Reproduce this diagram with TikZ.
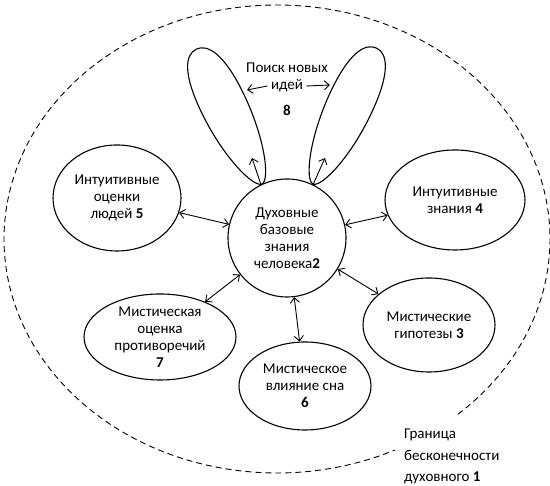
\documentclass[tikz,border=0pt]{standalone}
\usepackage{fontspec}
\setmainfont{Carlito}
\usetikzlibrary{arrows.meta,shapes.geometric}
\begin{document}
\begin{tikzpicture}[x=1pt,y=1pt,
  lbl/.style={font=\fontsize{15}{17}\selectfont, align=center},
  bub/.style={draw, ellipse, line width=1.1pt, inner sep=0pt, lbl},
  conn/.style={line width=0.9pt, {Straight Barb[length=5pt,width=9pt]}-{Straight Barb[length=5pt,width=9pt]}},
  one/.style={line width=0.9pt, -{Straight Barb[length=5pt,width=9pt]}},
  petal/.style={line width=1.1pt}
]
\useasboundingbox (0,0) rectangle (550,486);
% outer dashed boundary
\draw[line width=0.9pt, dash pattern=on 6pt off 4pt] (277,247) ++(-48.5:273 and 234)
  arc[start angle=-48.5,end angle=295.6,x radius=273,y radius=234];

% centre
\node[bub, circle, minimum size=118pt] (c2) at (287,248) {Духовные\\базовые\\знания\\человека\textbf{2}};

% bubbles
\node[bub, minimum width=128pt, minimum height=106pt] (e5) at (117,288) {Интуитивные\\оценки\\людей \textbf{5}};
\node[bub, minimum width=140pt, minimum height=100pt] (e4) at (455,286) {Интуитивные\\знания \textbf{4}};
\node[bub, minimum width=132pt, minimum height=94pt] (e3) at (429,161) {Мистические\\гипотезы \textbf{3}};
\node[bub, minimum width=132pt, minimum height=88pt] (e6) at (305,100) {Мистическое\\влияние сна\\\textbf{6}};
\node[bub, minimum width=152pt, minimum height=86pt] (e7) at (160,149) {Мистическая\\оценка\\противоречий\\\textbf{7}};

\draw[conn] (e5) -- (c2);
\draw[conn] (c2) -- (e4);
\draw[conn] (c2) -- (e3);
\draw[conn] (c2) -- (e6);
\draw[conn] (e7) -- (c2);

% petals
\begin{scope}[shift={(262,302)}, rotate=116]
\draw[petal] (0,0) .. controls (0,-9) and (40,-23) .. (90,-23)
  .. controls (135,-23) and (150,-12) .. (150,0)
  .. controls (150,12) and (135,23) .. (90,23)
  .. controls (40,23) and (0,9) .. (0,0) -- cycle;
\end{scope}
\begin{scope}[shift={(313,302)}, rotate=65]
\draw[petal] (0,0) .. controls (0,-9) and (40,-23) .. (90,-23)
  .. controls (135,-23) and (150,-12) .. (150,0)
  .. controls (150,12) and (135,23) .. (90,23)
  .. controls (40,23) and (0,9) .. (0,0) -- cycle;
\end{scope}
\coordinate (pl) at (252,328);
\coordinate (pr) at (325,328);
\draw[one] (c2.116) -- (pl);
\draw[one] (c2.64) -- (pr);

% label 8
\node[lbl] (t8a) at (287,418) {Поиск новых};
\node[lbl] (t8b) at (287,400) {идей};
\node[lbl] (t8c) at (287,376) {\textbf{8}};
\coordinate (al) at (247,396);
\coordinate (ar) at (330,401);
\draw[one] (t8b.west) -- (al);
\draw[one] (t8b.east) -- (ar);

% label 1
\node[lbl, inner sep=0pt, anchor=base west] (g1) at (404,47) {Граница};
\node[lbl, inner sep=0pt, anchor=base west] (g2) at (404,25) {бесконечности};
\node[lbl, inner sep=0pt, anchor=base west] (g3) at (404,4) {духовного \textbf{1}};
\end{tikzpicture}
\end{document}
